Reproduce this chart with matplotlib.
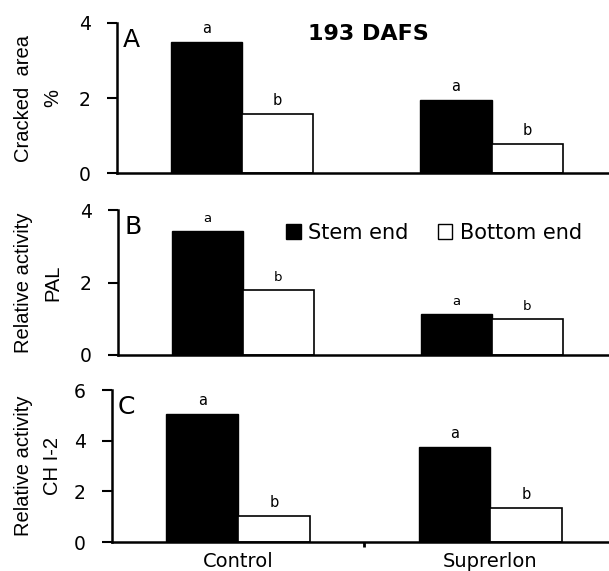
import matplotlib
matplotlib.use("Agg")
import matplotlib.pyplot as plt
from matplotlib.patches import Patch
import numpy as np

groups = ["Control", "Suprerlon"]
series_names = ["Stem end", "Bottom end"]

crack_stem = [3.5, 1.95]
crack_bottom = [1.57, 0.78]
pal_stem = [3.42, 1.13]
pal_bottom = [1.79, 1.0]
chi_stem = [5.06, 3.75]
chi_bottom = [1.02, 1.36]

letters_stem = ["a", "a"]
letters_bottom = ["b", "b"]

panel_labels = ["A", "B", "C"]
ylabels = ["Cracked  area\n%", "Relative activity\nPAL", "Relative activity\nCH I-2"]
yticks = [[0, 2, 4], [0, 2, 4], [0, 2, 4, 6]]
ylims = [4, 4, 6]
title = "193 DAFS"

plt.rcParams["font.family"] = ["DejaVu Sans"]

W, H = 609, 571
fig = plt.figure(figsize=(W / 100, H / 100), dpi=100)

# panel pixel geometry: left, top, bottom
geo = [(117, 23, 173), (118, 210, 355), (112, 390, 542)]
data = [(crack_stem, crack_bottom), (pal_stem, pal_bottom), (chi_stem, chi_bottom)]

x = np.arange(len(groups))
w = 0.285
axes = []
for i, ((l, t, b), (s_vals, b_vals)) in enumerate(zip(geo, data)):
    ax = fig.add_axes([l / W, 1 - b / H, (W - l) / W, (b - t) / H])
    axes.append(ax)
    ax.bar(x - w / 2, s_vals, w, color="black", edgecolor="black", linewidth=1.0)
    ax.bar(x + w / 2, b_vals, w, color="white", edgecolor="black", linewidth=1.2)
    ax.set_xlim(-0.5, 1.47)
    ax.set_ylim(0, ylims[i])
    ax.set_yticks(yticks[i])
    ax.tick_params(axis="y", direction="out", length=7, width=1.5, pad=12, labelsize=13.5)
    for sp in ["top", "right"]:
        ax.spines[sp].set_visible(False)
    ax.spines["left"].set_linewidth(1.8)
    ax.spines["bottom"].set_linewidth(1.8)
    fs_letter = 9.5 if i == 1 else 10.5
    for xi, v, lt in zip(x - w / 2, s_vals, letters_stem):
        ax.annotate(lt, (xi, v), xytext=(0, 9), textcoords="offset pixels",
                    ha="center", va="baseline", fontsize=fs_letter)
    for xi, v, lt in zip(x + w / 2, b_vals, letters_bottom):
        ax.annotate(lt, (xi, v), xytext=(0, 9), textcoords="offset pixels",
                    ha="center", va="baseline", fontsize=fs_letter)
    ax.text(6 / (W - l), 1 - 5 / (b - t), panel_labels[i], transform=ax.transAxes,
            fontsize=18, ha="left", va="top")
    fig.text(38 / W, 1 - ((t + b) / 2) / H, ylabels[i], rotation=90, ha="center", va="center",
             multialignment="center", fontsize=14.5, linespacing=1.7,
             family=["Liberation Sans", "DejaVu Sans"])
    if i < 2:
        ax.set_xticks([])
    else:
        ax.set_xticks(x)
        ax.set_xticklabels(groups, fontsize=14)
        ax.tick_params(axis="x", length=0, pad=7)
        ax.set_xticks([0.5], minor=True)
        ax.tick_params(axis="x", which="minor", length=3.5, width=2, direction="out")

fig.text(368 / W, 1 - 34.5 / H, title, fontsize=16, fontweight="bold", ha="center", va="center")

handles = [Patch(facecolor="black", edgecolor="black"),
           Patch(facecolor="white", edgecolor="black")]
fig.legend(handles, series_names, loc="center", bbox_to_anchor=(434 / W, 1 - 233 / H),
           bbox_transform=fig.transFigure, ncol=2, frameon=False, fontsize=15,
           handlelength=0.7, handleheight=0.7, handletextpad=0.35, columnspacing=1.4,
           borderpad=0, borderaxespad=0)

fig.savefig("out.png", dpi=100)
